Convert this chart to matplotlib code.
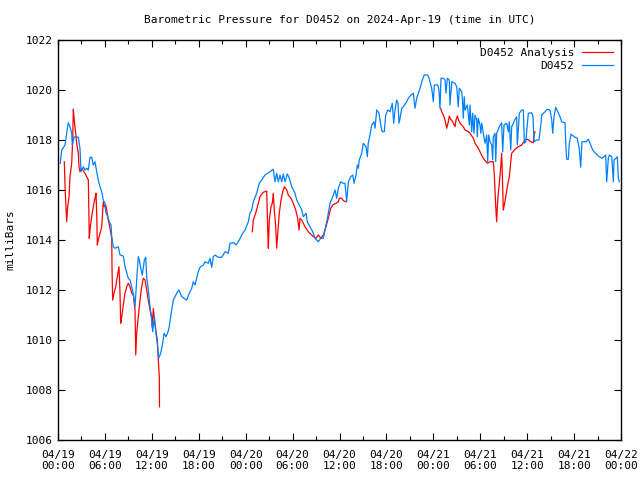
import numpy as np
import matplotlib
matplotlib.use("Agg")
import matplotlib.pyplot as plt
from matplotlib.ticker import MultipleLocator

plt.rcParams['font.family'] = ['DejaVu Sans Mono']

# time in hours since 2024-04-19 00:00 UTC, pressure in mb
blue_t = [0.29, 0.47, 0.90, 1.11, 1.32, 1.53, 1.75, 1.83, 2.08, 2.60, 2.81, 2.94, 3.24, 3.45, 3.67, 3.88,
          4.09, 4.31, 4.51, 4.73, 4.95, 5.15, 5.37, 5.59, 5.79, 6.01, 6.10, 6.36, 6.56, 6.78, 6.87, 7.07,
          7.29, 7.71, 7.93, 8.35, 8.57, 8.99, 9.21, 9.43, 9.63, 9.85, 10.06, 10.27, 10.40, 10.58, 10.78,
          11.04, 11.22, 11.34, 11.55, 11.77, 11.98, 12.11, 12.32, 12.53, 12.70, 12.88, 13.13, 13.39, 13.56,
          13.81, 14.03, 14.23, 14.54, 14.75, 15.18, 15.47, 15.82, 16.46, 16.79, 17.10, 17.30, 17.52, 17.74,
          17.87, 18.16, 18.58, 18.80, 19.22, 19.44, 19.66, 19.86, 20.08, 20.50, 20.94, 21.36, 21.78, 22.00,
          22.51, 22.76, 23.19, 23.49, 23.92, 24.34, 24.55, 24.77, 24.98, 25.41, 25.74, 26.05, 26.47, 27.11,
          27.53, 27.75, 27.97, 28.17, 28.39, 28.61, 28.81, 29.03, 29.33, 29.58, 29.89, 30.31, 30.53, 30.86,
          31.17, 31.37, 31.72, 31.88, 32.23, 32.57, 32.87, 33.29, 33.60, 33.93, 34.15, 34.49, 34.79, 35.13,
          35.43, 35.64, 35.85, 36.15, 36.41, 36.70, 36.92, 37.13, 37.43, 37.69, 37.86, 38.11, 38.28, 38.41,
          38.53, 38.84, 39.04, 39.39, 39.56, 39.68, 39.90, 40.12, 40.41, 40.54, 40.76, 41.05, 41.31, 41.48,
          41.73, 41.91, 42.17, 42.46, 42.75, 42.93, 43.10, 43.32, 43.48, 43.61, 43.74, 43.96, 44.16, 44.59,
          44.80, 45.14, 45.44, 45.66, 45.87, 46.08, 46.30, 46.59, 46.84, 47.28, 47.45, 47.79, 48.00, 48.12,
          48.56, 48.72, 48.85, 48.98, 49.28, 49.49, 49.62, 49.79, 50.04, 50.13, 50.35, 50.77, 50.99, 51.19,
          51.32, 51.63, 51.73, 51.83, 51.96, 52.05, 52.35, 52.60, 52.69, 52.91, 53.03, 53.20, 53.33, 53.55,
          53.62, 53.75, 53.97, 54.07, 54.19, 54.39, 54.61, 54.83, 54.95, 55.08, 55.25, 55.47, 55.59, 55.67,
          55.89, 55.98, 56.10, 56.44, 56.74, 56.87, 57.04, 57.38, 57.59, 57.72, 57.90, 58.02, 58.23, 58.45,
          58.66, 58.74, 59.00, 59.30, 59.51, 59.64, 59.82, 60.15, 60.58, 60.75, 60.88, 61.22, 61.51, 61.77,
          61.86, 62.28, 62.58, 62.92, 63.14, 63.27, 63.43, 63.65, 63.86, 64.20, 64.42, 64.84, 64.97, 65.06,
          65.26, 65.39, 65.61, 66.12, 66.41, 66.67, 66.85, 67.01, 67.53, 67.82, 68.13, 68.38, 68.68, 69.10,
          69.53, 69.83, 70.04, 70.17, 70.38, 70.51, 70.82, 71.02, 71.11, 71.36, 71.53, 71.66, 71.79]
blue_v = [1017.07, 1017.60, 1017.80, 1018.27, 1018.69, 1018.53, 1018.28, 1017.80, 1018.13, 1018.11, 1017.67,
          1016.73, 1016.93, 1016.80, 1016.87, 1016.80, 1017.31, 1017.31, 1017.00, 1017.13, 1016.73, 1016.40,
          1016.13, 1015.93, 1015.60, 1015.47, 1015.13, 1014.93, 1014.73, 1014.60, 1014.13, 1013.73, 1013.67,
          1013.73, 1013.40, 1013.36, 1012.93, 1012.47, 1012.40, 1012.13, 1011.87, 1011.33, 1012.40, 1013.33,
          1013.20, 1012.87, 1012.60, 1013.20, 1013.31, 1012.53, 1012.00, 1011.33, 1010.80, 1010.33, 1010.93,
          1010.27, 1009.87, 1009.27, 1009.47, 1009.87, 1010.27, 1010.13, 1010.29, 1010.53, 1011.20, 1011.60,
          1011.87, 1012.00, 1011.73, 1011.60, 1011.87, 1012.07, 1012.33, 1012.20, 1012.47, 1012.67, 1012.91,
          1013.00, 1013.13, 1013.07, 1013.27, 1012.91, 1013.33, 1013.40, 1013.31, 1013.31, 1013.53, 1013.47,
          1013.87, 1013.89, 1013.80, 1014.00, 1014.20, 1014.40, 1014.73, 1015.07, 1015.20, 1015.53, 1015.87,
          1016.27, 1016.40, 1016.60, 1016.73, 1016.83, 1016.33, 1016.67, 1016.33, 1016.60, 1016.33, 1016.64,
          1016.33, 1016.64, 1016.47, 1016.13, 1015.87, 1015.60, 1015.40, 1015.20, 1014.93, 1015.07, 1014.73,
          1014.53, 1014.33, 1014.07, 1013.93, 1014.07, 1014.07, 1014.40, 1014.93, 1015.47, 1015.73, 1016.00,
          1015.67, 1016.07, 1016.33, 1016.27, 1016.27, 1015.53, 1016.33, 1016.53, 1016.60, 1016.27, 1016.60,
          1017.00, 1016.87, 1017.20, 1017.47, 1017.87, 1017.73, 1017.33, 1017.87, 1018.20, 1018.60, 1018.73,
          1018.47, 1019.20, 1019.07, 1018.53, 1018.33, 1018.33, 1019.00, 1019.20, 1019.13, 1019.47, 1018.67,
          1019.20, 1019.60, 1019.47, 1018.67, 1018.87, 1019.27, 1019.33, 1019.53, 1019.67, 1019.80, 1019.87,
          1019.27, 1019.67, 1019.87, 1020.07, 1020.40, 1020.60, 1020.60, 1020.47, 1020.07, 1019.53, 1020.20,
          1020.20, 1020.00, 1019.27, 1020.47, 1020.47, 1020.40, 1019.87, 1020.47, 1020.40, 1019.40, 1020.33,
          1020.27, 1020.13, 1019.33, 1020.07, 1019.93, 1019.60, 1018.87, 1019.73, 1019.20, 1019.40, 1018.60,
          1019.40, 1018.33, 1019.07, 1018.27, 1019.00, 1018.80, 1018.13, 1018.87, 1018.60, 1018.27, 1018.67,
          1018.27, 1017.87, 1018.20, 1017.13, 1018.20, 1017.93, 1017.80, 1017.20, 1018.13, 1018.27, 1017.13,
          1018.27, 1018.53, 1018.69, 1017.53, 1018.60, 1018.67, 1018.33, 1018.73, 1017.60, 1018.53, 1018.67,
          1018.83, 1018.93, 1017.80, 1019.07, 1019.20, 1019.20, 1017.87, 1017.93, 1019.07, 1019.09, 1018.93,
          1017.93, 1018.00, 1018.00, 1018.67, 1019.00, 1019.13, 1019.23, 1019.20, 1018.80, 1018.27, 1018.93,
          1019.31, 1019.17, 1018.93, 1018.73, 1018.69, 1017.60, 1017.23, 1017.23, 1017.87, 1018.23, 1018.11,
          1018.07, 1017.63, 1016.91, 1017.93, 1017.93, 1018.03, 1017.80, 1017.60, 1017.49, 1017.36, 1017.27,
          1017.33, 1017.40, 1016.33, 1017.27, 1017.40, 1017.33, 1016.33, 1017.20, 1017.27, 1017.33, 1016.47,
          1016.33]

red1_t = [0.81, 0.90, 1.02, 1.11, 1.24, 1.41, 1.53, 1.75, 1.88, 1.96, 2.08, 2.26, 2.39, 2.60, 2.69, 2.81,
          3.03, 3.45, 3.67, 3.88, 3.94, 4.00, 4.13, 4.31, 4.51, 4.73, 4.86, 4.95, 5.03, 5.15, 5.37, 5.59,
          5.79, 5.92, 6.10, 6.23, 6.43, 6.65, 6.87, 6.91, 6.99, 7.16, 7.38, 7.58, 7.80, 7.93, 8.02, 8.15,
          8.35, 8.57, 8.79, 8.99, 9.21, 9.43, 9.63, 9.85, 9.94, 10.06, 10.27, 10.49, 10.70, 10.91, 11.13,
          11.34, 11.55, 11.77, 11.98, 12.06, 12.19, 12.34, 12.53, 12.70, 12.83, 12.96, 12.98]
red1_v = [1017.13, 1016.13, 1015.33, 1014.73, 1015.33, 1015.73, 1016.53, 1017.07, 1018.00, 1019.23, 1018.80,
          1018.27, 1017.87, 1017.47, 1016.93, 1016.73, 1016.87, 1016.67, 1016.53, 1016.40, 1015.27, 1014.07,
          1014.53, 1014.93, 1015.33, 1015.67, 1015.87, 1015.07, 1013.80, 1014.00, 1014.27, 1014.53, 1015.53,
          1015.33, 1015.40, 1015.20, 1014.80, 1014.48, 1014.07, 1012.80, 1011.60, 1011.87, 1012.13, 1012.53,
          1012.93, 1011.87, 1010.67, 1010.93, 1011.40, 1011.87, 1012.13, 1012.27, 1012.13, 1011.87, 1011.80,
          1011.20, 1009.40, 1010.27, 1010.93, 1011.60, 1012.13, 1012.47, 1012.40, 1012.00, 1011.60, 1011.20,
          1010.93, 1010.53, 1011.27, 1010.80, 1010.33, 1010.00, 1009.20, 1008.47, 1007.33]

red2_t = [24.85, 24.98, 25.28, 25.62, 25.83, 26.26, 26.69, 26.82, 26.90, 27.02, 27.24, 27.41, 27.53, 27.66,
          27.84, 27.97, 28.10, 28.30, 28.52, 28.74, 28.94, 29.25, 29.45, 29.80, 30.09, 30.40, 30.65, 30.82,
          30.95, 31.17, 31.59, 32.01, 32.45, 32.65, 33.00, 33.29, 33.60, 33.93, 34.27, 34.57, 34.88, 35.13,
          35.55, 35.85, 35.98, 36.28, 36.49, 36.83]
red2_v = [1014.33, 1014.80, 1015.07, 1015.47, 1015.73, 1015.91, 1015.96, 1014.40, 1013.67, 1014.80, 1015.33,
          1015.47, 1015.87, 1015.20, 1014.53, 1013.67, 1014.27, 1015.07, 1015.60, 1015.93, 1016.13, 1016.00,
          1015.80, 1015.67, 1015.47, 1015.20, 1014.87, 1014.40, 1014.87, 1014.80, 1014.53, 1014.33, 1014.20,
          1014.13, 1014.07, 1014.20, 1014.07, 1014.20, 1014.53, 1014.87, 1015.27, 1015.40, 1015.47, 1015.53,
          1015.67, 1015.67, 1015.57, 1015.53]

red3_t = [48.94, 49.07, 49.28, 49.49, 49.71, 49.92, 50.04, 50.22, 50.48, 50.77, 50.90, 51.07, 51.22, 51.41,
          51.63, 51.83, 52.05, 52.27, 52.47, 52.69, 53.11, 53.33, 53.75, 54.06, 54.39, 54.74, 54.90, 55.25,
          55.67, 55.80, 55.98, 56.10, 56.18, 56.31, 56.44, 56.62, 56.74, 56.82, 56.95, 57.08, 57.26, 57.46,
          57.72, 57.90, 58.02, 58.45, 58.87, 59.30, 59.72, 60.06, 60.45, 60.79, 60.88, 61.00]
red3_v = [1019.27, 1019.13, 1019.00, 1018.80, 1018.47, 1018.73, 1018.96, 1018.83, 1018.73, 1018.53, 1018.80,
          1018.96, 1018.80, 1018.67, 1018.60, 1018.53, 1018.40, 1018.37, 1018.33, 1018.27, 1018.07, 1017.87,
          1017.67, 1017.47, 1017.27, 1017.13, 1017.07, 1017.13, 1017.13, 1016.60, 1015.33, 1014.73, 1015.33,
          1015.87, 1016.27, 1016.93, 1017.47, 1016.67, 1015.20, 1015.40, 1015.73, 1016.13, 1016.53, 1017.13,
          1017.47, 1017.63, 1017.73, 1017.80, 1018.00, 1018.03, 1017.93, 1017.89, 1018.20, 1018.33]

tick_hours = [0, 6, 12, 18, 24, 30, 36, 42, 48, 54, 60, 66, 72]
tick_labels = ["04/19\n00:00", "04/19\n06:00", "04/19\n12:00", "04/19\n18:00",
               "04/20\n00:00", "04/20\n06:00", "04/20\n12:00", "04/20\n18:00",
               "04/21\n00:00", "04/21\n06:00", "04/21\n12:00", "04/21\n18:00",
               "04/22\n00:00"]

RED = "#ff0000"
BLUE = "#0080ff"
LW = 0.9

fig = plt.figure(figsize=(6.4, 4.8), dpi=100)
ax = fig.add_axes([58 / 640, 40 / 480, (621 - 58) / 640, 400 / 480])

ax.plot(red1_t, red1_v, color=RED, lw=LW, label="D0452 Analysis")
ax.plot(red2_t, red2_v, color=RED, lw=LW)
ax.plot(red3_t, red3_v, color=RED, lw=LW)
ax.plot(blue_t, blue_v, color=BLUE, lw=LW, label="D0452")

ax.set_xlim(0, 72)
ax.set_ylim(1006, 1022)
ax.set_xticks(tick_hours)
ax.set_xticklabels(tick_labels, fontsize=8)
ax.xaxis.set_minor_locator(MultipleLocator(3))
ax.set_yticks(range(1006, 1023, 2))
ax.set_yticklabels([str(v) for v in range(1006, 1023, 2)])
ax.tick_params(axis='both', which='both', direction='in', top=True, right=True, labelsize=8)
ax.tick_params(which='major', length=5, width=0.8)
ax.tick_params(which='minor', length=3, width=0.8)
ax.tick_params(axis='x', pad=7)
for s in ax.spines.values():
    s.set_linewidth(1.0)

ax.set_ylabel("milliBars", fontsize=8)
ax.yaxis.set_label_coords(-0.075, 0.5)
fig.text(339.5 / 640, 1 - 20 / 480, "Barometric Pressure for D0452 on 2024-Apr-19 (time in UTC)",
         ha='center', va='center', fontsize=8)

leg = ax.legend(loc='upper right', frameon=False, markerfirst=False, fontsize=8,
                handlelength=2.8, handletextpad=0.7, borderaxespad=0.3, labelspacing=0.25)
for t in leg.get_texts():
    t.set_ha('right')

fig.savefig("out.png", dpi=100)
